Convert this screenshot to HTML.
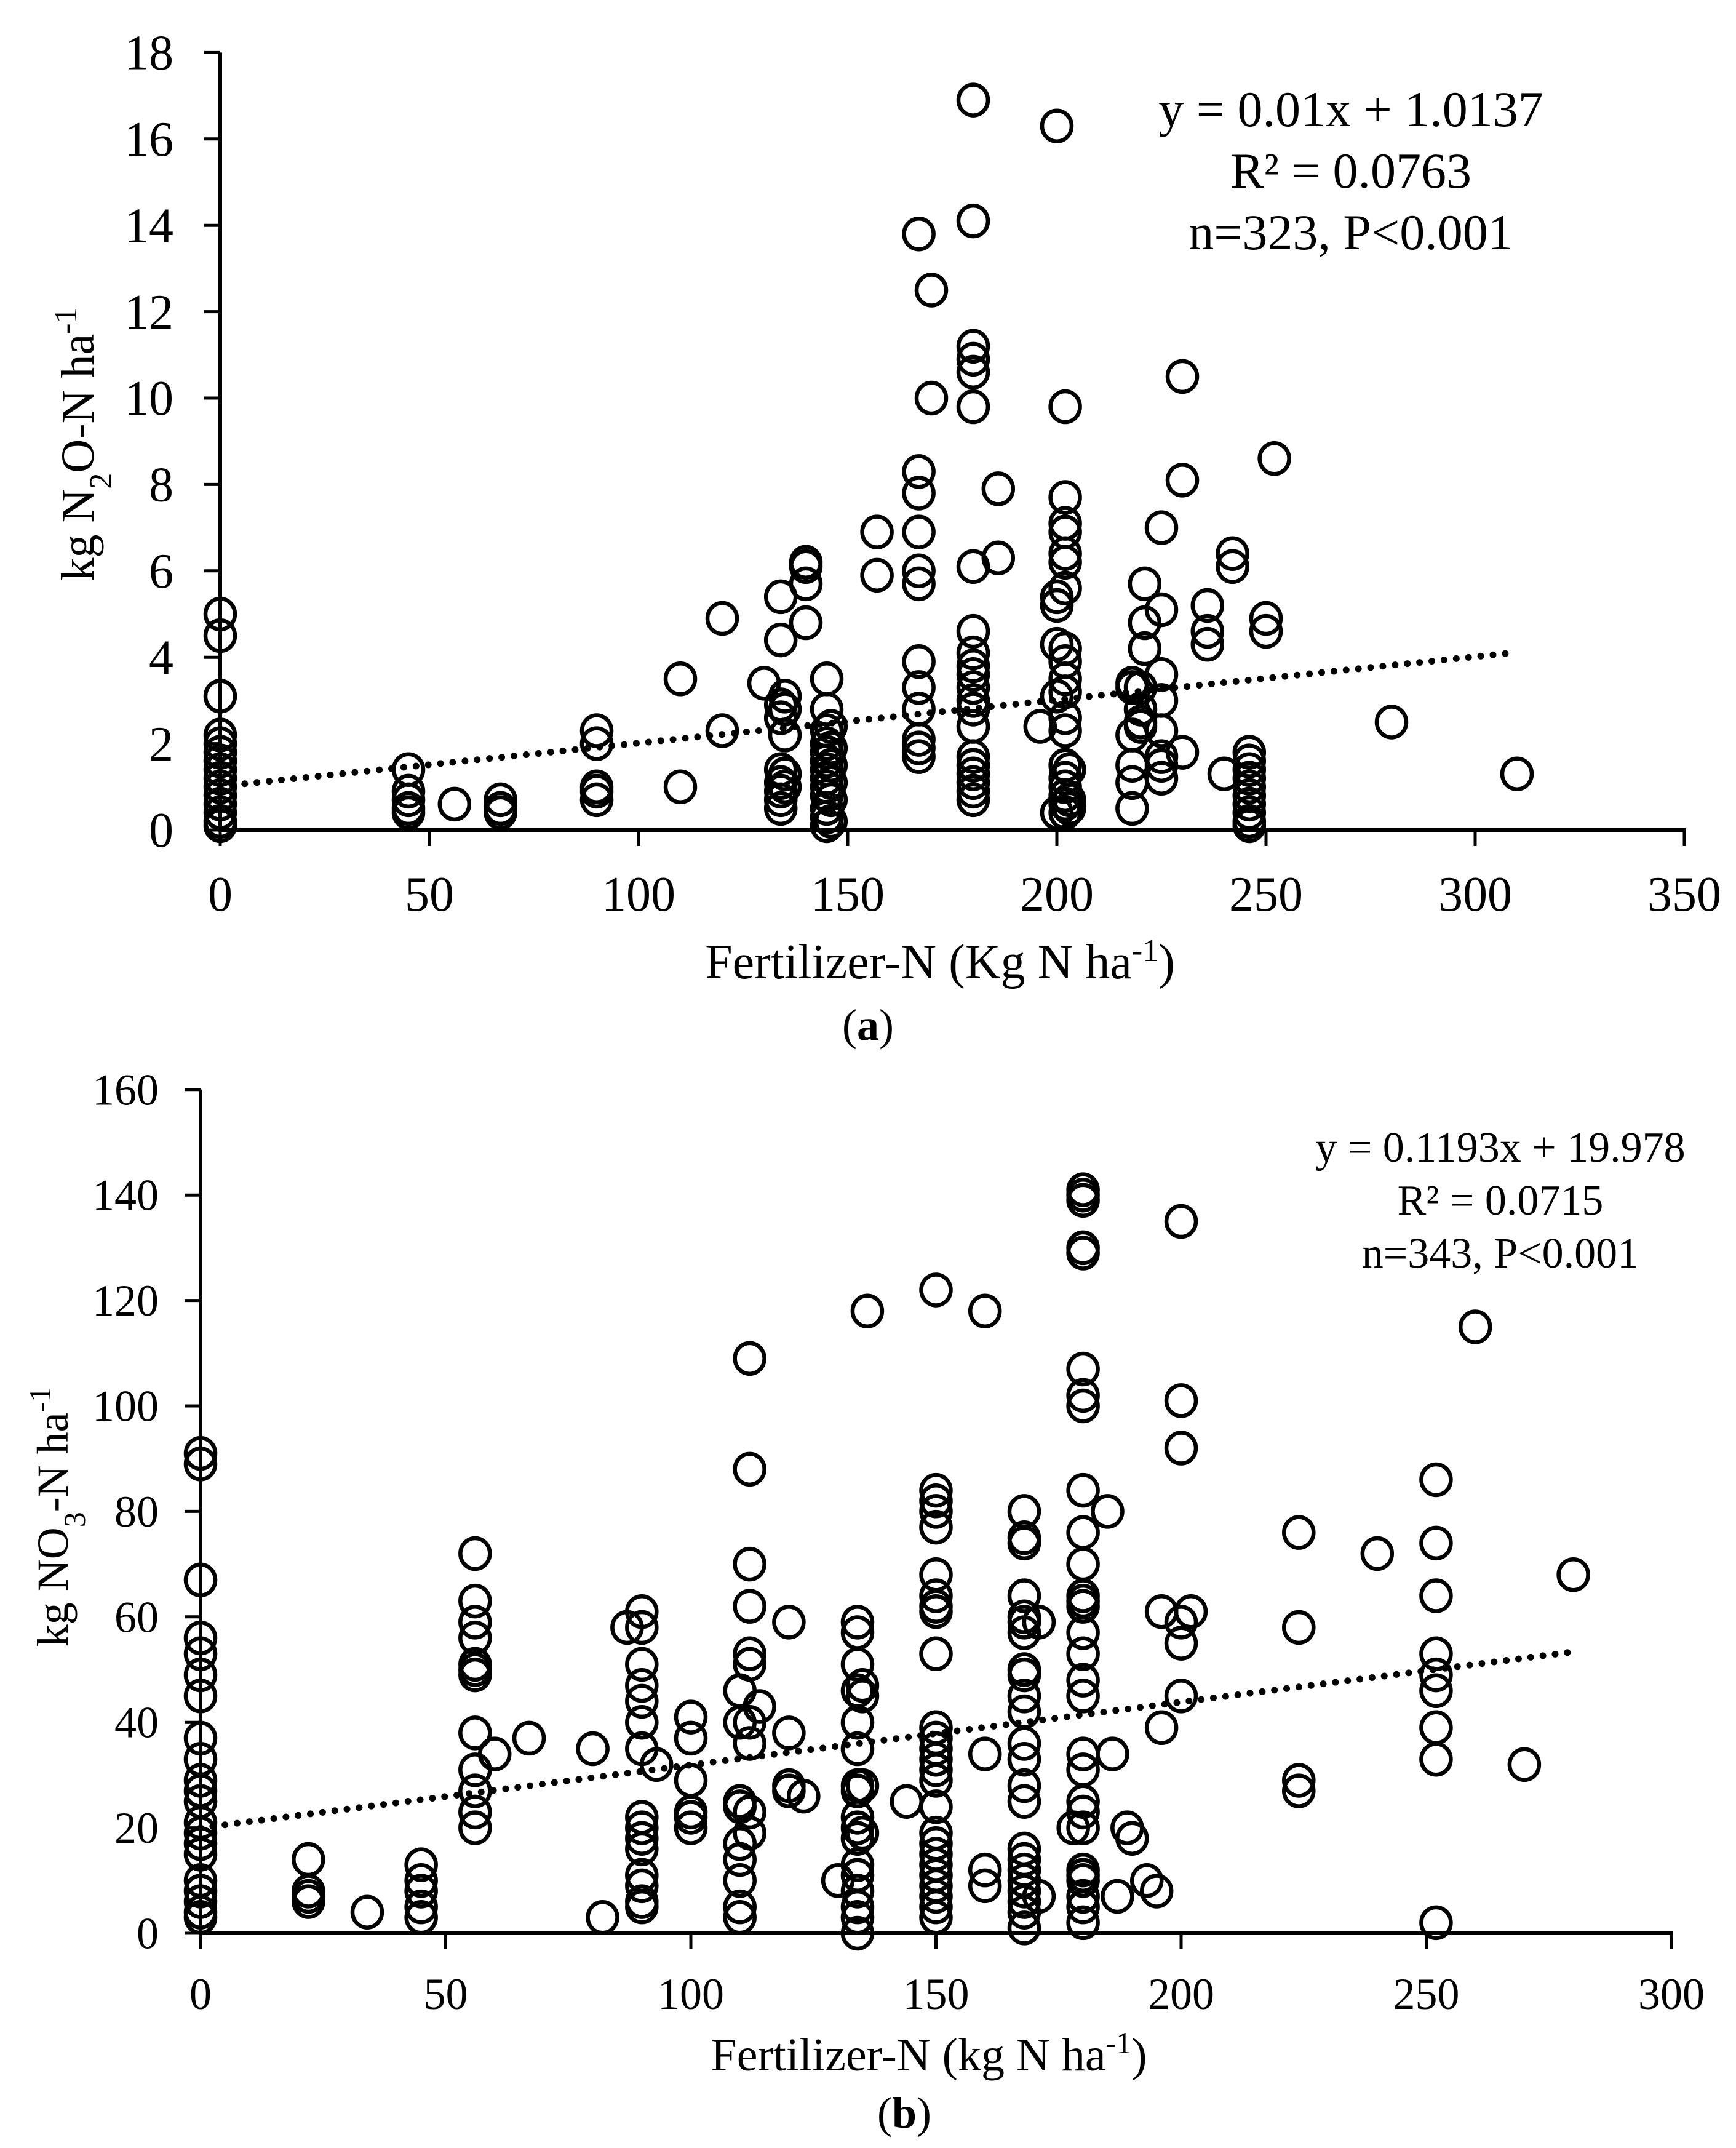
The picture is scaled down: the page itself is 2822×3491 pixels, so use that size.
<!DOCTYPE html>
<html><head><meta charset="utf-8">
<style>
html,body{margin:0;padding:0;background:#fff;}
svg{display:block;}
text{font-family:"Liberation Serif",serif;fill:#000;}
</style></head>
<body>
<svg id="fig" width="2822" height="3491" viewBox="0 0 2822 3491" xmlns="http://www.w3.org/2000/svg">
<g id="chartA"></g>
<g id="chartB"></g>
</svg>
<script>
// ---- Chart (a) data ----
const aX = [0,0,0,0,0,0,0,0,0,0,0,0,0,0,0,
45,45,45,45,45,56,67,67,67,90,90,90,90,90,110,110,120,120,130,
134,134,134,134,134,134,134,134,134,135,135,135,135,135,
140,140,140,140,
145,145,145,145,145,145,145,145,145,145,145,145,145,
146,146,146,146,146,146,157,157,
167,167,167,167,167,167,167,167,167,167,167,167,170,170,
180,180,180,180,180,180,180,180,180,180,180,180,180,180,180,180,180,180,180,180,180,
186,186,196,200,200,200,200,200,200,
202,202,202,202,202,202,202,202,202,202,202,202,202,202,202,202,202,202,202,
203,203,203,218,218,218,218,218,218,220,220,220,220,221,221,221,
225,225,225,225,225,225,225,225,230,230,230,236,236,236,240,242,242,
246,246,246,246,246,246,246,246,246,246,250,250,252,280,310];
const aY = [5.0,4.5,3.1,2.2,2.0,1.8,1.6,1.4,1.2,1.0,0.8,0.6,0.4,0.2,0.1,
1.4,0.9,0.7,0.5,0.4,0.6,0.7,0.5,0.4,2.3,2.0,1.0,0.9,0.7,3.5,1.0,4.9,2.3,3.4,
5.4,4.4,2.9,2.6,1.4,1.1,0.9,0.7,0.5,3.1,2.8,2.2,1.3,1.0,
6.2,6.1,5.7,4.8,
3.5,2.8,2.3,2.0,1.8,1.6,1.4,1.2,1.0,0.8,0.5,0.3,0.1,
2.4,1.9,1.5,1.1,0.7,0.2,6.9,5.9,
13.8,8.3,7.8,6.9,6.0,5.7,3.9,3.3,2.8,2.1,1.9,1.7,12.5,10.0,
16.9,14.1,11.2,10.9,10.6,9.8,6.1,4.6,4.1,3.8,3.6,3.3,3.0,2.8,2.4,1.7,1.5,1.3,1.1,0.9,0.7,
7.9,6.3,2.4,16.3,5.4,5.2,4.3,3.1,0.4,
9.8,7.7,7.1,6.9,6.4,6.2,5.6,4.2,3.9,3.5,3.2,2.6,2.3,1.5,1.2,1.0,0.8,0.6,0.4,
1.4,0.7,0.5,3.4,3.3,2.2,1.5,1.1,0.5,3.3,2.8,2.5,2.4,5.7,4.8,4.2,
7.0,5.1,3.6,3.0,2.3,1.7,1.5,1.2,10.5,8.1,1.8,5.2,4.6,4.3,1.3,6.4,6.1,
1.8,1.6,1.4,1.2,1.0,0.8,0.6,0.4,0.2,0.1,4.9,4.6,8.6,2.5,1.3];
const aXTicks = [0,50,100,150,200,250,300,350];
const aYTicks = [0,2,4,6,8,10,12,14,16,18];
const aTrend = [0.01, 1.0137, 0, 310]; // slope, intercept, x start, x end

// ---- Chart (b) data ----
const bX = [0,0,0,0,0,0,0,0,0,0,0,0,0,0,0,0,0,0,0,0,0,
22,22,22,22,34,45,45,45,45,45,
56,56,56,56,56,56,56,56,56,56,56,56,60,67,80,82,87,
90,90,90,90,90,90,90,90,90,90,90,90,90,90,90,93,
100,100,100,100,100,100,110,110,110,110,110,110,110,110,110,
112,112,112,112,112,112,112,112,112,112,114,120,120,120,120,123,130,
134,134,134,134,134,134,134,134,134,134,134,134,134,134,134,134,134,
135,135,135,135,136,144,
150,150,150,150,150,150,150,150,150,150,150,150,150,150,150,150,150,150,150,150,150,150,150,150,150,150,
160,160,160,160,
168,168,168,168,168,168,168,168,168,168,168,168,168,168,168,168,168,168,168,168,168,168,168,
171,171,
180,180,180,180,180,180,180,180,180,180,180,180,180,180,180,180,180,180,180,180,180,180,180,180,180,180,180,180,180,
178,185,186,187,189,190,193,195,196,196,200,200,200,200,200,200,202,
224,224,224,224,240,252,252,252,252,252,252,252,252,252,260,270,280];
const bY = [91,89,67,56,53,49,45,37,33,29,27,25,21,19,17,15,10,8,6,4,3,
14,8,7,6,4,13,10,8,5,3,
72,63,59,56,51,50,49,38,31,27,23,20,34,37,35,3,58,
61,58,51,47,44,40,35,22,20,18,16,11,9,6,5,32,
41,37,29,23,22,20,46,40,25,24,17,14,10,5,3,
109,88,70,62,53,51,40,36,23,19,43,59,38,28,27,26,10,
59,57,51,46,40,35,28,27,22,20,18,13,11,8,5,3,0,
47,45,28,19,118,25,
122,84,82,80,77,68,64,62,61,53,39,37,35,33,31,29,24,19,17,15,13,11,9,7,5,3,
118,34,12,9,
80,75,74,64,60,59,57,50,49,45,42,36,33,28,25,16,14,12,10,8,6,4,1,
59,7,
141,140,139,130,129,107,102,100,84,76,70,64,63,62,57,53,48,45,34,31,25,23,20,12,11,10,7,5,2,
20,80,34,7,20,18,10,8,61,39,135,101,92,59,55,45,61,
76,58,29,27,72,86,74,64,53,49,46,39,33,2,115,32,68];
const bXTicks = [0,50,100,150,200,250,300];
const bYTicks = [0,20,40,60,80,100,120,140,160];
const bTrend = [0.1193, 19.978, 0, 280];

const NS = "http://www.w3.org/2000/svg";
function mk(parent, tag, attrs, txt){
  const e = document.createElementNS(NS, tag);
  for (const k in attrs) e.setAttribute(k, attrs[k]);
  if (txt !== undefined) e.textContent = txt;
  parent.appendChild(e);
  return e;
}

function drawChart(g, cfg){
  const sx = v => cfg.x0 + (v - cfg.xmin) * cfg.kx;
  const sy = v => cfg.y0 - v * cfg.ky;
  const xEnd = sx(cfg.xTicks[cfg.xTicks.length-1]);
  const yTop = sy(cfg.yTicks[cfg.yTicks.length-1]);
  const ya = mk(g,'line',{x1:cfg.axisX,y1:yTop,x2:cfg.axisX,y2:cfg.y0,stroke:'#000','stroke-width':6});
  
  
  const xa = mk(g,'line',{x1:cfg.axisX-3,y1:cfg.y0,x2:xEnd+3,y2:cfg.y0,stroke:'#000','stroke-width':6});
  
  
  cfg.yTicks.forEach(t=>{
    const y = sy(t);
    const tk = mk(g,'line',{x1:cfg.axisX-26,y1:y,x2:cfg.axisX,y2:y,stroke:'#000','stroke-width':5});
    
    
    const lb = mk(g,'text',{x:cfg.yLabelRight,y:y+cfg.tickFont*0.34,'text-anchor':'end','font-size':cfg.tickFont},String(t));
    
    
  });
  cfg.xTicks.forEach(t=>{
    const x = sx(t);
    const tk = mk(g,'line',{x1:x,y1:cfg.y0,x2:x,y2:cfg.y0+26,stroke:'#000','stroke-width':5});
    
    
    const lb = mk(g,'text',{x:x,y:cfg.xLabelY,'text-anchor':'middle','font-size':cfg.tickFont},String(t));
    
    
  });
  const pts = mk(g,'g',{});
  
  
  for (let i=0;i<cfg.xs.length;i++){
    const c = mk(pts,'ellipse',{cx:sx(cfg.xs[i]),cy:sy(cfg.ys[i]),rx:24,ry:25,fill:'none',stroke:'#000','stroke-width':6.5});
    
    
  }
  const tr = cfg.trend;
  const tl = mk(g,'line',{x1:sx(tr[2]),y1:sy(tr[0]*tr[2]+tr[1]),x2:sx(tr[3]),y2:sy(tr[0]*tr[3]+tr[1]),
    stroke:'#000','stroke-width':11,'stroke-linecap':'round','stroke-dasharray':'0 20'});
  
  
}

const gA = document.getElementById('chartA');
drawChart(gA,{x0:358,xmin:0,kx:6.8,y0:1349,ky:70.2,axisX:358,yLabelRight:282,xLabelY:1480,tickFont:80,
  xs:aX,ys:aY,xTicks:aXTicks,yTicks:aYTicks,trend:aTrend});
const gB = document.getElementById('chartB');
drawChart(gB,{x0:326,xmin:0,kx:7.97,y0:3142,ky:8.57,axisX:326,yLabelRight:258,xLabelY:3265,tickFont:72,
  xs:bX,ys:bY,xTicks:bXTicks,yTicks:bYTicks,trend:bTrend});
</script>
<div style="position:absolute;left:0;top:0;width:2822px;height:3491px;pointer-events:none;">
<svg width="2822" height="3491" viewBox="0 0 2822 3491" xmlns="http://www.w3.org/2000/svg" style="position:absolute;left:0;top:0">
  <text x="2196" y="205" text-anchor="middle" font-size="82" font-family="Liberation Serif, serif">y = 0.01x + 1.0137</text>
  <text x="2196" y="305" text-anchor="middle" font-size="82" font-family="Liberation Serif, serif">R² = 0.0763</text>
  <text x="2196" y="405" text-anchor="middle" font-size="82" font-family="Liberation Serif, serif">n=323, P&lt;0.001</text>
  <text x="1528" y="1590" text-anchor="middle" font-size="80" font-family="Liberation Serif, serif">Fertilizer-N (Kg N ha<tspan baseline-shift="super" font-size="52">-1</tspan>)</text>
  <text x="1411" y="1690" text-anchor="middle" font-size="72" font-family="Liberation Serif, serif">(<tspan font-weight="bold">a</tspan>)</text>
  <text transform="translate(152,722) rotate(-90)" text-anchor="middle" font-size="76" font-family="Liberation Serif, serif">kg N<tspan baseline-shift="sub" font-size="52">2</tspan>O-N ha<tspan baseline-shift="super" font-size="52">-1</tspan></text>

  <text x="2439" y="1888" text-anchor="middle" font-size="70" font-family="Liberation Serif, serif">y = 0.1193x + 19.978</text>
  <text x="2439" y="1974" text-anchor="middle" font-size="70" font-family="Liberation Serif, serif">R² = 0.0715</text>
  <text x="2439" y="2060" text-anchor="middle" font-size="70" font-family="Liberation Serif, serif">n=343, P&lt;0.001</text>
  <text x="1510" y="3365" text-anchor="middle" font-size="76" font-family="Liberation Serif, serif">Fertilizer-N (kg N ha<tspan baseline-shift="super" font-size="50">-1</tspan>)</text>
  <text x="1470" y="3458" text-anchor="middle" font-size="72" font-family="Liberation Serif, serif">(<tspan font-weight="bold">b</tspan>)</text>
  <text transform="translate(110,2465) rotate(-90)" text-anchor="middle" font-size="72" font-family="Liberation Serif, serif">kg NO<tspan baseline-shift="sub" font-size="50">3</tspan>-N ha<tspan baseline-shift="super" font-size="50">-1</tspan></text>
</svg>
</div>
</body></html>
